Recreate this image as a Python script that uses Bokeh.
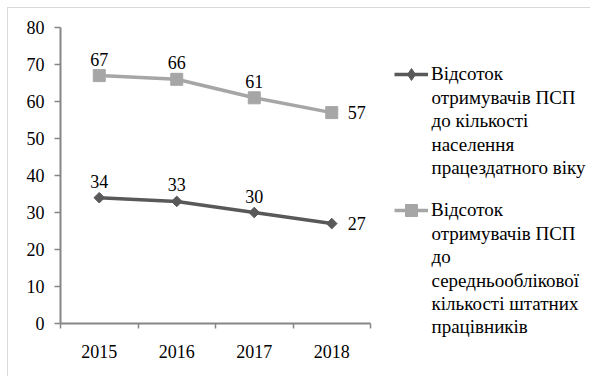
import math
from bokeh.plotting import figure
from bokeh.layouts import row
from bokeh.models import (ColumnDataSource, LabelSet, Label, Legend, LegendItem,
                          FixedTicker, Range1d)
from bokeh.embed import file_html
from bokeh.resources import INLINE

years = ["2015", "2016", "2017", "2018"]
series1 = [34, 33, 30, 27]
series2 = [67, 66, 61, 57]
name1 = ["Відсоток", "отримувачів ПСП", "до кількості", "населення",
         "працездатного віку"]
name2 = ["Відсоток", "отримувачів ПСП", "до", "середньооблікової",
         "кількості штатних", "працівників"]
y_ticks = [0, 10, 20, 30, 40, 50, 60, 70, 80]

FONT = "Liberation Serif"
FS = "18px"
LFS = "19px"
C1 = "#595959"
C2 = "#a6a6a6"
AX = "#868686"
LWID = 3.5

xs = [i + 0.5 for i in range(len(years))]

H = 368
p = figure(width=367, height=H, output_backend="svg", toolbar_location=None,
           x_range=Range1d(0, len(years)), y_range=Range1d(0, 80),
           min_border_left=52, min_border_right=5, min_border_top=19,
           min_border_bottom=53)
p.frame_align = False
p.outline_line_color = None
p.xgrid.visible = False
p.ygrid.visible = False

# axes
p.xaxis.ticker = FixedTicker(ticks=xs, minor_ticks=list(range(len(years) + 1)))
p.xaxis.major_label_overrides = {x: y for x, y in zip(xs, years)}
p.xaxis.major_tick_out = 0
p.xaxis.major_tick_in = 0
p.xaxis.minor_tick_out = 5
p.xaxis.minor_tick_in = 0
p.xaxis.minor_tick_line_color = AX
p.xaxis.minor_tick_line_width = 1.5
p.xaxis.major_label_standoff = 16

p.yaxis.ticker = FixedTicker(ticks=y_ticks)
p.yaxis.major_tick_out = 6
p.yaxis.major_tick_in = 0
p.yaxis.minor_tick_out = 0
p.yaxis.minor_tick_in = 0
p.yaxis.major_label_standoff = 10

for ax in (p.xaxis, p.yaxis):
    ax.axis_line_color = AX
    ax.axis_line_width = 2
    ax.major_tick_line_color = AX
    ax.major_tick_line_width = 1.5
    ax.major_label_text_font = FONT
    ax.major_label_text_font_size = FS
    ax.major_label_text_color = "#000000"

src1 = ColumnDataSource(dict(x=xs, y=series1))
src2 = ColumnDataSource(dict(x=xs, y=series2))

p.line("x", "y", source=src1, line_color=C1, line_width=LWID)
p.scatter("x", "y", source=src1, marker="square", angle=math.pi / 4, size=7.5,
          fill_color=C1, line_color=C1)
p.line("x", "y", source=src2, line_color=C2, line_width=LWID)
p.scatter("x", "y", source=src2, marker="square", size=12,
          fill_color=C2, line_color=C2)

# data labels: above for all but last, right of last point
for vals in (series1, series2):
    n = len(vals)
    above = ColumnDataSource(dict(x=xs[:n - 1], y=vals[:n - 1],
                                  t=[str(v) for v in vals[:n - 1]]))
    last = ColumnDataSource(dict(x=xs[n - 1:], y=vals[n - 1:],
                                 t=[str(v) for v in vals[n - 1:]]))
    p.add_layout(LabelSet(x="x", y="y", text="t", source=above,
                          text_align="center", text_baseline="bottom",
                          y_offset=10, text_font=FONT, text_font_size=FS,
                          text_color="#000000"))
    p.add_layout(LabelSet(x="x", y="y", text="t", source=last,
                          text_align="left", text_baseline="middle",
                          x_offset=16, text_font=FONT, text_font_size=FS,
                          text_color="#000000"))

# legend panel (no axes: frame fills the canvas)
LW = 215
q = figure(width=LW, height=H, output_backend="svg", toolbar_location=None,
           x_range=Range1d(0, 1), y_range=Range1d(0, 1),
           x_axis_location=None, y_axis_location=None,
           min_border=0, min_border_left=0, min_border_right=0,
           min_border_top=0, min_border_bottom=0)
q.frame_align = False
q.grid.visible = False
q.outline_line_color = None

nan = [float("nan")]
r1 = [q.line(x=nan, y=nan, line_color=C1, line_width=LWID),
      q.scatter(x=nan, y=nan, marker="diamond", size=12, fill_color=C1, line_color=C1)]
r2 = [q.line(x=nan, y=nan, line_color=C2, line_width=LWID),
      q.scatter(x=nan, y=nan, marker="square", size=12, fill_color=C2, line_color=C2)]

LH = 23.2
for names, rends, top in ((name1, r1, 66), (name2, r2, 202)):
    cy = H - top
    leg = Legend(items=[LegendItem(label=names[0], renderers=rends)],
                 location=(19, cy - 15), glyph_width=34, glyph_height=30,
                 label_height=30, label_standoff=3, padding=0, margin=0,
                 label_text_font=FONT, label_text_font_size=LFS,
                 label_text_color="#000000", label_text_baseline="middle",
                 border_line_color=None, background_fill_alpha=0)
    q.add_layout(leg, "center")
    for i, t in enumerate(names[1:], start=1):
        q.add_layout(Label(x=56, y=cy - i * LH, x_units="screen", y_units="screen",
                           text=t, text_font=FONT, text_font_size=LFS,
                           text_color="#000000", text_baseline="middle",
                           text_align="left"))

lay = row(p, q, spacing=0)
lay.styles = {"margin-left": "7px", "margin-top": "7px",
              "border-left": "1px solid #d9d9d9", "border-top": "1px solid #d9d9d9"}

open("out.html", "w").write(file_html(lay, INLINE))
